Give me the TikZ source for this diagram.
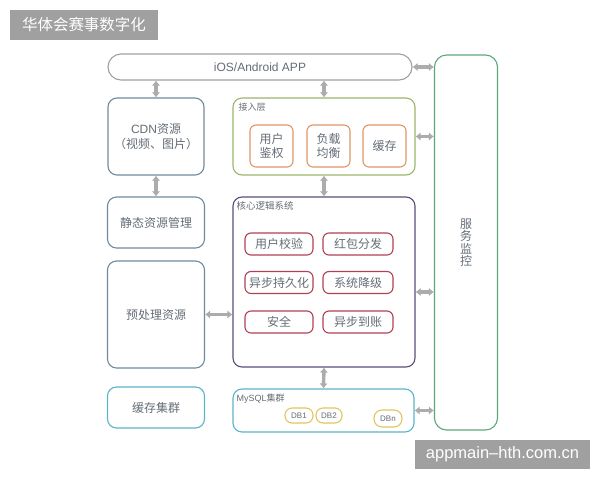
\documentclass[tikz,border=0pt]{standalone}
\usepackage{fontspec}
\setmainfont{Noto Sans CJK SC}
\newfontfamily\latinfont{Liberation Sans}
\usepackage{tikz}
\usetikzlibrary{positioning, arrows.meta}

\definecolor{boxgray}{RGB}{160,160,160}
\definecolor{arrgray}{RGB}{172,172,172}
\definecolor{txtgray}{RGB}{100,108,118}
\definecolor{slate}{RGB}{110,138,156}
\definecolor{olive}{RGB}{156,180,108}
\definecolor{orng}{RGB}{222,150,100}
\definecolor{purp}{RGB}{92,76,120}
\definecolor{redb}{RGB}{176,64,84}
\definecolor{teal}{RGB}{90,180,200}
\definecolor{mongreen}{RGB}{90,168,120}
\definecolor{yell}{RGB}{228,196,96}

\tikzset{
    blk/.style={draw=#1, line width=1.1pt, rounded corners=9pt, inner sep=0pt,
        align=center, text=txtgray, font=\fontsize{12}{15.5}\selectfont},
    sub/.style={draw=#1, line width=1.1pt, rounded corners=6pt, inner sep=0pt,
        align=center, text=txtgray, font=\fontsize{12}{14.5}\selectfont},
    tag/.style={anchor=north west, inner sep=0pt, text=txtgray, font=\fontsize{9}{10}\selectfont},
    biarrow/.style={{Latex[length=5pt,width=8.5pt]}-{Latex[length=5pt,width=8.5pt]},
        draw=arrgray, line width=3.4pt},
    grayband/.style={fill=boxgray, inner sep=0pt, text=white}
}

\begin{document}
\begin{tikzpicture}[x=1pt, y=-1pt]
    \useasboundingbox (0,0) rectangle (600,480);

    % Title
    \node[grayband, minimum width=148pt, minimum height=30pt,
        font=\fontsize{15.5}{16}\selectfont] (title) at (84,25) {华体会赛事数字化};

    % App bar
    \node[blk=boxgray, rounded corners=13pt, minimum width=304pt, minimum height=26pt,
        font=\latinfont\fontsize{12}{14}\selectfont] (app) at (260,67) {iOS/Android APP};

    % Service monitor
    \node[blk=mongreen, rounded corners=12pt, minimum width=63pt, minimum height=375pt,
        font=\fontsize{12}{12.5}\selectfont] (mon) at (466,242.5) {服\\务\\监\\控};

    % Left column
    \node[blk=slate, minimum width=96pt, minimum height=77pt] (cdn) at (156,136.5)
        {{\latinfont CDN}资源\\（视频、图片）};
    \node[blk=slate, minimum width=97pt, minimum height=51pt] (static) at (156,222.5) {静态资源管理};
    \node[blk=slate, minimum width=97pt, minimum height=107pt] (pre) at (156,314.5) {预处理资源};
    \node[blk=teal, minimum width=97pt, minimum height=41pt] (cc) at (156,407.5) {缓存集群};

    % Access layer
    \node[blk=olive, minimum width=182pt, minimum height=77pt] (acc) at (324,136.5) {};
    \node[tag] at ([xshift=6pt,yshift=-5pt]acc.north west) {接入层};
    \node[sub=orng, minimum width=43pt, minimum height=42pt] (auth) at (271.5,146) {用户\\鉴权};
    \node[sub=orng, minimum width=43pt, minimum height=42pt] (lb) at (328.5,146) {负载\\均衡};
    \node[sub=orng, minimum width=43pt, minimum height=42pt] (cache) at (384.5,146) {缓存};

    % Core logic
    \node[blk=purp, minimum width=182pt, minimum height=170pt] (core) at (324,282) {};
    \node[tag, font=\fontsize{9.5}{10}\selectfont] at ([xshift=4pt,yshift=-5pt]core.north west) {核心逻辑系统};
    \node[sub=redb, minimum width=68pt, minimum height=22pt] (chk) at (279,244) {用户校验};
    \node[sub=redb, minimum width=70pt, minimum height=22pt] (red) at (358,244) {红包分发};
    \node[sub=redb, minimum width=68pt, minimum height=22pt] (pers) at (279,282.5) {异步持久化};
    \node[sub=redb, minimum width=70pt, minimum height=22pt] (deg) at (358,282.5) {系统降级};
    \node[sub=redb, minimum width=68pt, minimum height=22pt] (safe) at (279,322) {安全};
    \node[sub=redb, minimum width=70pt, minimum height=22pt] (acct) at (358,322) {异步到账};
    \coordinate (coreR) at ([yshift=-10pt]core.east);

    % MySQL cluster
    \node[blk=teal, minimum width=181pt, minimum height=43pt] (sql) at (323.5,410.5) {};
    \node[tag] at ([xshift=4pt,yshift=-5pt]sql.north west) {{\latinfont MySQL}集群};
    \node[sub=yell, rounded corners=7pt, minimum width=28pt, minimum height=15pt,
        font=\latinfont\fontsize{8}{9}\selectfont] (db1) at (299,415.5) {DB1};
    \node[sub=yell, rounded corners=7pt, minimum width=26pt, minimum height=15pt,
        font=\latinfont\fontsize{8}{9}\selectfont] (db2) at (329,415.5) {DB2};
    \node[sub=yell, rounded corners=8pt, minimum width=28pt, minimum height=17pt,
        font=\latinfont\fontsize{8}{9}\selectfont] (dbn) at (388,418.5) {DBn};

    % Vertical links
    \draw[biarrow] (cdn.north |- app.south) -- (cdn.north);
    \draw[biarrow] (acc.north |- app.south) -- (acc.north);
    \draw[biarrow] (cdn.south) -- (static.north);
    \draw[biarrow] (acc.south) -- (core.north);
    \draw[biarrow] (core.south) -- (sql.north);

    % Links to the monitor
    \draw[biarrow] (pre.east) -- (core.west |- pre.east);
    \draw[biarrow] (app.east) -- (mon.west |- app.east);
    \draw[biarrow] (acc.east) -- (mon.west |- acc.east);
    \draw[biarrow] (coreR) -- (mon.west |- coreR);
    \draw[biarrow] (sql.east) -- (mon.west |- sql.east);

    % Watermark
    \node[grayband, minimum width=175pt, minimum height=29pt,
        font=\latinfont\fontsize{16.5}{18}\selectfont] (wm) at (502.5,454.5) {appmain–hth.com.cn};
\end{tikzpicture}
\end{document}
